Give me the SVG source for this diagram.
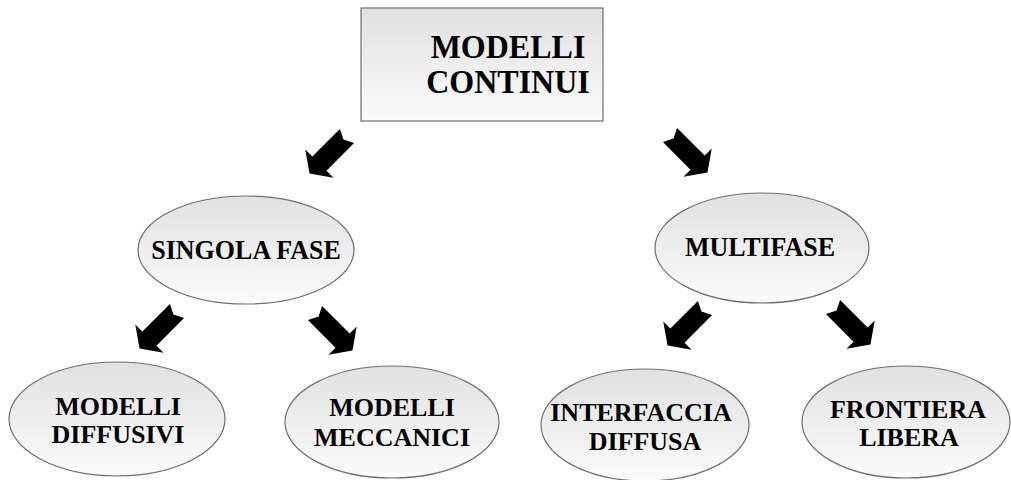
<svg xmlns="http://www.w3.org/2000/svg" width="1011" height="480" viewBox="0 0 1011 480">
<defs>
<linearGradient id="g" x1="0" y1="0" x2="0" y2="1">
<stop offset="0" stop-color="#e0e0e0"/>
<stop offset="1" stop-color="#fbfbfb"/>
</linearGradient>
<path id="arr" d="M0,-10 L39,-10 L39,-20 L53,0 L39,20 L39,10 L0,10 L5,0 Z"/>
</defs>
<style>
.box{fill:url(#g);stroke:#6e6e6e;stroke-width:1.2}
.t{font-family:"Liberation Serif","Times New Roman",serif;font-weight:bold;fill:#000;text-anchor:middle}
.big{font-size:32px}
.mid{font-size:26px}
.arrow{fill:#000}
</style>
<rect width="1011" height="480" fill="#fff"/>
<g id="connectors" class="arrow">
<use href="#arr" transform="translate(347,136) rotate(135)"/>
<use href="#arr" transform="translate(670,135) rotate(45)"/>
<use href="#arr" transform="translate(177,311) rotate(135)"/>
<use href="#arr" transform="translate(315,313) rotate(45)"/>
<use href="#arr" transform="translate(705,308) rotate(135)"/>
<use href="#arr" transform="translate(833,307) rotate(45)"/>
</g>
<g id="modelli-continui">
<rect class="box" x="361" y="8" width="242" height="113"/>
<text class="t big" transform="translate(508,58) scale(1,1.06)">MODELLI</text>
<text class="t big" transform="translate(508,93) scale(1,1.06)">CONTINUI</text>
</g>
<g id="singola-fase">
<ellipse class="box" cx="246" cy="250" rx="108" ry="54"/>
<text class="t mid" transform="translate(246,259) scale(1,1.09)">SINGOLA FASE</text>
</g>
<g id="multifase">
<ellipse class="box" cx="762" cy="248" rx="107" ry="55"/>
<text class="t mid" transform="translate(760,256) scale(1,1.09)">MULTIFASE</text>
</g>
<g id="modelli-diffusivi">
<ellipse class="box" cx="117" cy="419" rx="108" ry="57"/>
<text class="t mid" x="118" y="415">MODELLI</text>
<text class="t mid" x="118" y="443">DIFFUSIVI</text>
</g>
<g id="modelli-meccanici">
<ellipse class="box" cx="392" cy="422" rx="107" ry="56"/>
<text class="t mid" x="392" y="416">MODELLI</text>
<text class="t mid" x="392" y="446">MECCANICI</text>
</g>
<g id="interfaccia-diffusa">
<ellipse class="box" cx="645" cy="425" rx="104" ry="56"/>
<text class="t mid" x="641" y="421">INTERFACCIA</text>
<text class="t mid" x="645" y="450">DIFFUSA</text>
</g>
<g id="frontiera-libera">
<ellipse class="box" cx="906" cy="422" rx="104" ry="56"/>
<text class="t mid" x="908" y="418">FRONTIERA</text>
<text class="t mid" x="909" y="446">LIBERA</text>
</g>
</svg>
